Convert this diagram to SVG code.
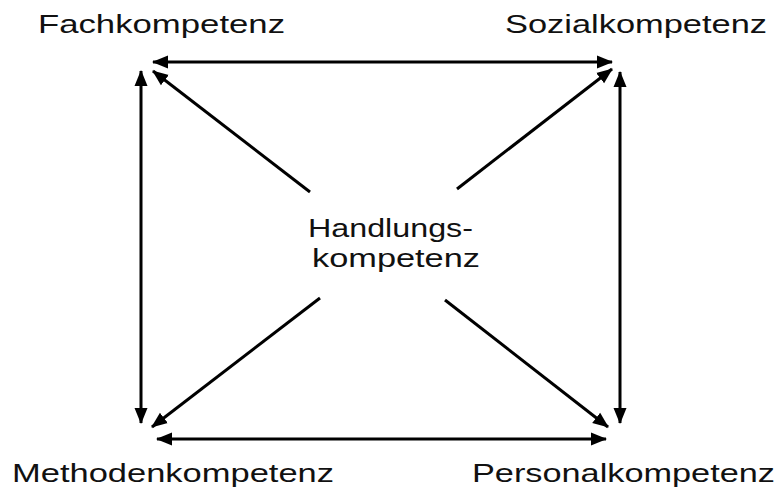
<svg xmlns="http://www.w3.org/2000/svg" width="780" height="491" viewBox="0 0 780 491">
<style>
.lbl{font-family:"Liberation Sans",Arial,sans-serif;font-size:26px;fill:#111;}
.c{stroke:#000;stroke-width:3;fill:none;}
</style>
<defs>
<marker id="ah" markerUnits="userSpaceOnUse" markerWidth="16" markerHeight="14" refX="15" refY="6.5" orient="auto-start-reverse" viewBox="0 0 16 13">
<path d="M0,0 L16,6.5 L0,13 z" fill="#000"/>
</marker>
</defs>
<rect width="780" height="491" fill="#fff"/>
<g id="connectors">
<line class="c" x1="153" y1="62" x2="612" y2="62" marker-start="url(#ah)" marker-end="url(#ah)"/>
<line class="c" x1="141" y1="71" x2="141" y2="423" marker-start="url(#ah)" marker-end="url(#ah)"/>
<line class="c" x1="620" y1="72" x2="620" y2="423" marker-start="url(#ah)" marker-end="url(#ah)"/>
<line class="c" x1="157" y1="439" x2="606" y2="439" marker-start="url(#ah)" marker-end="url(#ah)"/>
<line class="c" x1="310" y1="192" x2="153" y2="71" marker-end="url(#ah)"/>
<line class="c" x1="457" y1="189" x2="612" y2="69" marker-end="url(#ah)"/>
<line class="c" x1="320" y1="298" x2="152" y2="427" marker-end="url(#ah)"/>
<line class="c" x1="445" y1="300" x2="608" y2="427" marker-end="url(#ah)"/>
</g>
<g id="fach"><text class="lbl" x="38" y="33" textLength="247" lengthAdjust="spacingAndGlyphs">Fachkompetenz</text></g>
<g id="sozial"><text class="lbl" x="505" y="33" textLength="262" lengthAdjust="spacingAndGlyphs">Sozialkompetenz</text></g>
<g id="methoden"><text class="lbl" x="12" y="482" textLength="322" lengthAdjust="spacingAndGlyphs">Methodenkompetenz</text></g>
<g id="personal"><text class="lbl" x="472" y="482" textLength="303" lengthAdjust="spacingAndGlyphs">Personalkompetenz</text></g>
<g id="handlung">
<text class="lbl" x="308" y="237" textLength="165" lengthAdjust="spacingAndGlyphs">Handlungs-</text>
<text class="lbl" x="312" y="267" textLength="168" lengthAdjust="spacingAndGlyphs">kompetenz</text>
</g>
</svg>
